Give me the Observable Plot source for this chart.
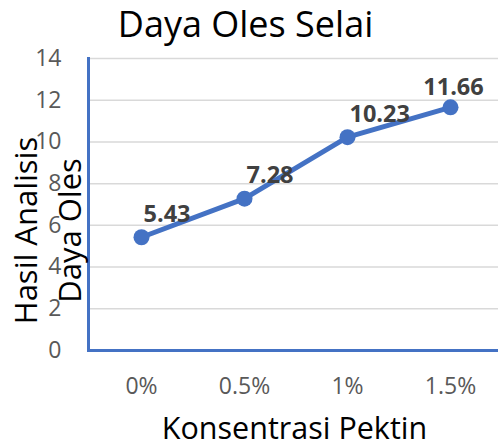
<!DOCTYPE html>
<html>
<head>
<meta charset="utf-8">
<script src="https://cdn.jsdelivr.net/npm/d3@7"></script>
<script src="https://cdn.jsdelivr.net/npm/@observablehq/plot@0.6"></script>
<style>
  html, body { margin: 0; padding: 0; background: #fff; }
  #chart svg { display: block; }
</style>
</head>
<body>
<div id="chart"></div>
<script>
const categories = ["0%", "0.5%", "1%", "1.5%"];
const values = [5.43, 7.28, 10.23, 11.66];
const yTicks = [0, 2, 4, 6, 8, 10, 12, 14];
const gridTicks = [2, 4, 6, 8, 10, 12, 14];
const title = "Daya Oles Selai";
const xTitle = "Konsentrasi Pektin";
const yTitle = "Hasil Analisis\nDaya Oles";

const data = categories.map((c, i) => ({cat: c, v: values[i]}));
const blue = "#4472C4";
const font = "'Open Sans', Lato, sans-serif";

const plot = Plot.plot({
  width: 498,
  height: 446,
  marginTop: 58,
  marginBottom: 96,
  marginLeft: 88,
  marginRight: 0,
  style: {fontFamily: font, background: "#fff", overflow: "visible"},
  x: {type: "point", domain: categories, range: [88, 502], padding: 0.5},
  y: {domain: [0, 14], range: [350, 58]},
  marks: [
    Plot.ruleY(gridTicks, {stroke: "#d9d9d9", strokeWidth: 1.5}),
    Plot.axisY({ticks: yTicks, tickSize: 0, tickPadding: 27, fontSize: 23, fill: "#595959", label: null}),
    Plot.axisX({tickSize: 0, tickPadding: 27, fontSize: 23, fill: "#595959", label: null}),
    Plot.frame({anchor: "left", stroke: blue, strokeWidth: 3}),
    Plot.ruleY([0], {stroke: blue, strokeWidth: 3}),
    Plot.line(data, {x: "cat", y: "v", stroke: blue, strokeWidth: 5}),
    Plot.dot(data, {x: "cat", y: "v", r: 8, fill: blue}),
    Plot.text(data.slice(0, 3), {x: "cat", y: "v", text: d => d.v.toFixed(2), textAnchor: "start", dx: 2, dy: -23, fontSize: 23.5, fontWeight: "bold", fill: "#404040"}),
    Plot.text(data.slice(3), {x: "cat", y: "v", text: d => d.v.toFixed(2), textAnchor: "middle", dx: 3, dy: -20, fontSize: 23.5, fontWeight: "bold", fill: "#404040"}),
    Plot.text([title], {frameAnchor: "top", dx: -48, dy: -33, textAnchor: "middle", lineAnchor: "middle", fontSize: 36, fill: "#000"}),
    Plot.text([xTitle], {frameAnchor: "bottom", dx: 1, dy: 79, textAnchor: "middle", lineAnchor: "middle", fontSize: 30.5, fill: "#000"}),
    Plot.text([yTitle], {frameAnchor: "left", dx: -44, dy: 26, rotate: -90, textAnchor: "middle", lineAnchor: "middle", lineHeight: 1.42, fontSize: 31, fill: "#000"})
  ]
});
document.getElementById("chart").appendChild(plot);
</script>
</body>
</html>
